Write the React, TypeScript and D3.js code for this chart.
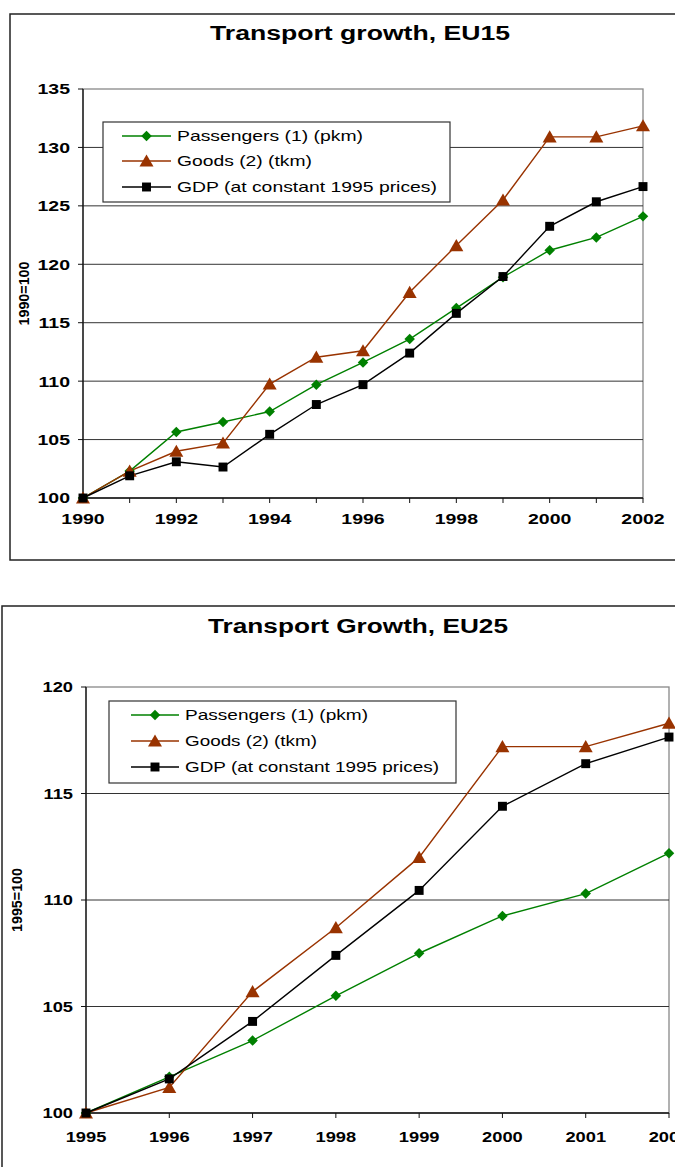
import React from "react";
import * as d3 from "d3";

// ---- Data: EU15 ----
const eu15Years = [1990, 1991, 1992, 1993, 1994, 1995, 1996, 1997, 1998, 1999, 2000, 2001, 2002];
const eu15Passengers = [100, 102.3, 105.65, 106.5, 107.4, 109.7, 111.6, 113.6, 116.25, 118.9, 121.2, 122.3, 124.1];
const eu15Goods = [100, 102.3, 104.0, 104.7, 109.75, 112.05, 112.6, 117.6, 121.6, 125.5, 130.9, 130.9, 131.85];
const eu15GDP = [100, 101.9, 103.1, 102.65, 105.45, 108.0, 109.7, 112.4, 115.8, 118.95, 123.25, 125.35, 126.65];
const eu15YTicks = [100, 105, 110, 115, 120, 125, 130, 135];
const eu15XLabels = [1990, 1992, 1994, 1996, 1998, 2000, 2002];

// ---- Data: EU25 ----
const eu25Years = [1995, 1996, 1997, 1998, 1999, 2000, 2001, 2002];
const eu25Passengers = [100, 101.7, 103.4, 105.5, 107.5, 109.25, 110.3, 112.2];
const eu25Goods = [100, 101.2, 105.7, 108.7, 112.0, 117.2, 117.2, 118.3];
const eu25GDP = [100, 101.6, 104.3, 107.4, 110.45, 114.4, 116.4, 117.65];
const eu25YTicks = [100, 105, 110, 115, 120];
const eu25XLabels = [1995, 1996, 1997, 1998, 1999, 2000, 2001, 2002];

const seriesNames = ["Passengers (1) (pkm)", "Goods (2) (tkm)", "GDP (at constant 1995 prices)"];
const seriesColors = ["#008000", "#993300", "#000000"];

const FONT = "'Liberation Sans', Arial, Helvetica, sans-serif";

type ChartProps = {
  title: string;
  titleX: number;
  titleY: number;
  titleW: number;
  yLabel: string;
  yLabelX: number;
  years: number[];
  values: number[][];
  yTicks: number[];
  xLabels: number[];
  xLabelDy: number;
  tickSx: number;
  frame: { x: number; y: number; w: number; h: number };
  plot: { l: number; r: number; t: number; b: number };
  legend: { x: number; y: number; w: number; h: number; rowY: number[]; lineX0: number; lineX1: number; textX: number; textW: number[] };
};

const diamond = d3.symbol().type(d3.symbolSquare).size(55)() || "";
const triangle = d3.symbol().type(d3.symbolTriangle).size(85)() || "";
const square = d3.symbol().type(d3.symbolSquare).size(80)() || "";

function Marker({ i, x, y }: { i: number; x: number; y: number }) {
  if (i === 0) return <path d={diamond} transform={`translate(${x},${y}) rotate(45)`} fill={seriesColors[0]} />;
  if (i === 1) return <path d={triangle} transform={`translate(${x},${y + 1.5})`} fill={seriesColors[1]} />;
  return <path d={square} transform={`translate(${x},${y})`} fill={seriesColors[2]} />;
}

function Chart(p: ChartProps) {
  const x = d3.scaleLinear().domain([p.years[0], p.years[p.years.length - 1]]).range([p.plot.l, p.plot.r]);
  const yMin = p.yTicks[0];
  const yMax = p.yTicks[p.yTicks.length - 1];
  const y = d3.scaleLinear().domain([yMin, yMax]).range([p.plot.b, p.plot.t]);
  const line = d3
    .line<number>()
    .x((_, i) => x(p.years[i]))
    .y((d) => y(d));

  return (
    <g>
      <rect x={p.frame.x} y={p.frame.y} width={p.frame.w} height={p.frame.h} fill="#fff" stroke="#222" strokeWidth={1.5} />
      <text
        x={p.titleX}
        y={p.titleY}
        textAnchor="middle"
        fontFamily={FONT}
        fontWeight="bold"
        fontSize={19.5}
        fill="#000"
        textLength={p.titleW}
        lengthAdjust="spacingAndGlyphs"
      >
        {p.title}
      </text>
      {/* plot area border (gray) */}
      <rect x={p.plot.l} y={p.plot.t} width={p.plot.r - p.plot.l} height={p.plot.b - p.plot.t} fill="#fff" stroke="#888" strokeWidth={1.3} />
      {/* gridlines */}
      {p.yTicks.slice(1, -1).map((t) => (
        <line key={t} x1={p.plot.l} x2={p.plot.r} y1={y(t)} y2={y(t)} stroke="#333" strokeWidth={1} />
      ))}
      {/* y axis */}
      <line x1={p.plot.l} x2={p.plot.l} y1={p.plot.t} y2={p.plot.b} stroke="#111" strokeWidth={1.3} />
      {p.yTicks.map((t) => (
        <g key={t}>
          <line x1={p.plot.l - 5} x2={p.plot.l} y1={y(t)} y2={y(t)} stroke="#111" strokeWidth={1} />
          <text
            transform={`translate(${p.plot.l - 13},${y(t)}) scale(${p.tickSx},1)`}
            dy="0.36em"
            textAnchor="end"
            fontFamily={FONT}
            fontWeight="bold"
            fontSize={15}
            fill="#000"
          >
            {t}
          </text>
        </g>
      ))}
      {/* x axis */}
      <line x1={p.plot.l} x2={p.plot.r} y1={p.plot.b} y2={p.plot.b} stroke="#111" strokeWidth={1.3} />
      {p.years.map((yr) => (
        <line key={yr} x1={x(yr)} x2={x(yr)} y1={p.plot.b} y2={p.plot.b + 5} stroke="#111" strokeWidth={1} />
      ))}
      {p.xLabels.map((yr) => (
        <text
          key={yr}
          transform={`translate(${x(yr)},${p.plot.b + p.xLabelDy}) scale(${p.tickSx},1)`}
          textAnchor="middle"
          fontFamily={FONT}
          fontWeight="bold"
          fontSize={15}
          fill="#000"
        >
          {yr}
        </text>
      ))}
      {/* y label */}
      <text
        transform={`translate(${p.yLabelX},${(p.plot.t + p.plot.b) / 2}) rotate(-90)`}
        textAnchor="middle"
        fontFamily={FONT}
        fontWeight="bold"
        fontSize={14}
        textLength={64}
        lengthAdjust="spacingAndGlyphs"
        fill="#000"
      >
        {p.yLabel}
      </text>
      {/* series */}
      {p.values.map((vals, i) => (
        <path key={"l" + i} d={line(vals) || ""} fill="none" stroke={seriesColors[i]} strokeWidth={1.4} />
      ))}
      {p.values.map((vals, i) =>
        vals.map((v, j) => <Marker key={`m${i}-${j}`} i={i} x={x(p.years[j])} y={y(v)} />)
      )}
      {/* legend */}
      <rect x={p.legend.x} y={p.legend.y} width={p.legend.w} height={p.legend.h} fill="#fff" stroke="#333" strokeWidth={1.2} />
      {seriesNames.map((n, i) => (
        <g key={n}>
          <line x1={p.legend.lineX0} x2={p.legend.lineX1} y1={p.legend.rowY[i]} y2={p.legend.rowY[i]} stroke={seriesColors[i]} strokeWidth={1.4} />
          <Marker i={i} x={(p.legend.lineX0 + p.legend.lineX1) / 2} y={p.legend.rowY[i]} />
          <text
            x={p.legend.textX}
            y={p.legend.rowY[i]}
            dy="0.36em"
            fontFamily={FONT}
            fontSize={15}
            fill="#000"
            textLength={p.legend.textW[i]}
            lengthAdjust="spacingAndGlyphs"
          >
            {n}
          </text>
        </g>
      ))}
    </g>
  );
}

export default function App() {
  return (
    <svg width={675} height={1167} style={{ position: "absolute", left: 0, top: 0, background: "#fff" }}>
      <rect width={675} height={1167} fill="#fff" />
      <Chart
        title="Transport growth, EU15"
        titleX={360}
        titleY={40}
        titleW={300}
        yLabel="1990=100"
        yLabelX={29}
        years={eu15Years}
        values={[eu15Passengers, eu15Goods, eu15GDP]}
        yTicks={eu15YTicks}
        xLabels={eu15XLabels}
        xLabelDy={26}
        tickSx={1.3}
        frame={{ x: 10, y: 14, w: 700, h: 546 }}
        plot={{ l: 83, r: 643, t: 89, b: 498 }}
        legend={{ x: 103, y: 122, w: 347, h: 80, rowY: [136, 161, 187], lineX0: 122, lineX1: 171, textX: 177, textW: [186, 135, 260] }}
      />
      <Chart
        title="Transport Growth, EU25"
        titleX={358}
        titleY={633}
        titleW={300}
        yLabel="1995=100"
        yLabelX={22}
        years={eu25Years}
        values={[eu25Passengers, eu25Goods, eu25GDP]}
        yTicks={eu25YTicks}
        xLabels={eu25XLabels}
        xLabelDy={29}
        tickSx={1.22}
        frame={{ x: 2, y: 606, w: 720, h: 600 }}
        plot={{ l: 86, r: 669, t: 687, b: 1113 }}
        legend={{ x: 109, y: 701, w: 347, h: 82, rowY: [715, 741, 767], lineX0: 131, lineX1: 179, textX: 185, textW: [183, 132, 254] }}
      />
    </svg>
  );
}
